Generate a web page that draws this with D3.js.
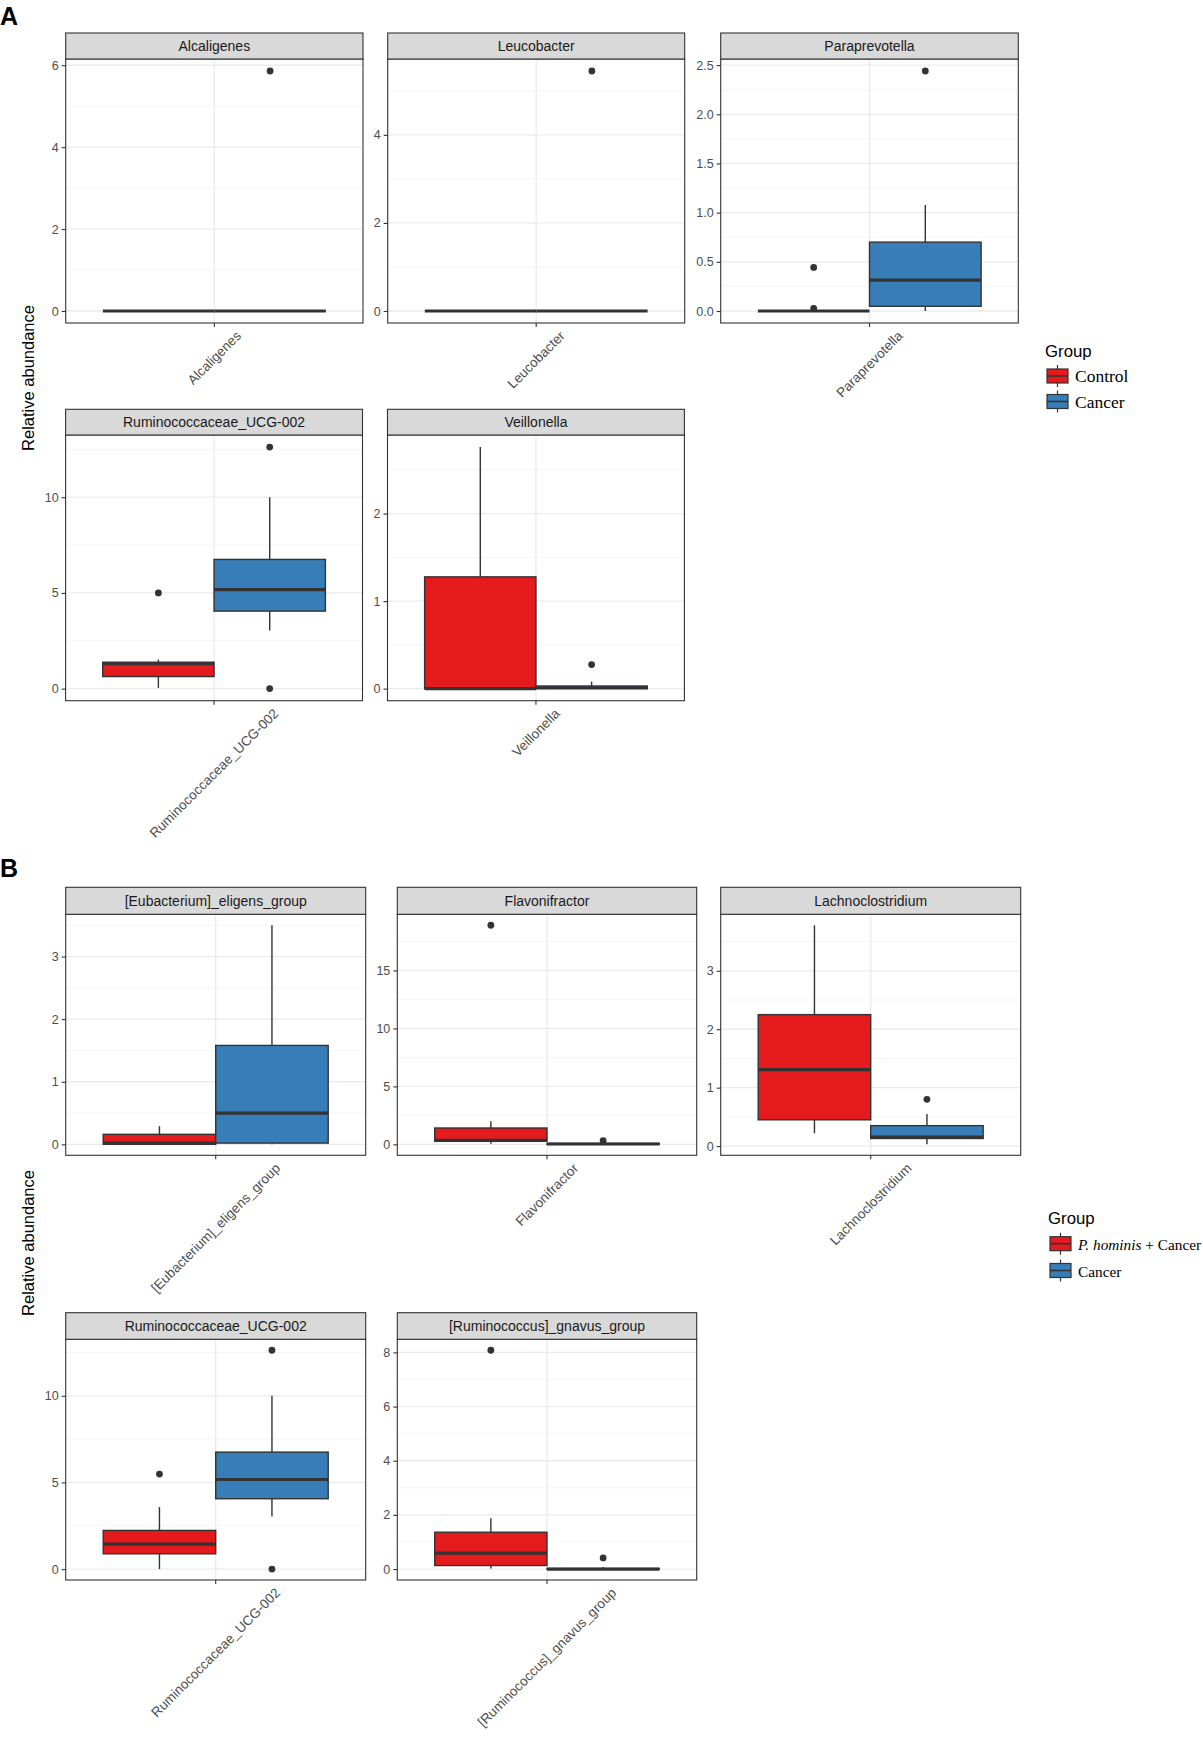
<!DOCTYPE html>
<html>
<head>
<meta charset="utf-8">
<script src="https://cdn.jsdelivr.net/npm/d3@7"></script>
<style>
  body { margin: 0; background: #fff; }
  svg { display: block; font-family: "Liberation Sans", Arial, sans-serif; }
</style>
</head>
<body>
<div id="chart"></div>
<script>
// ---- data ----
// box stats per genus: [lower whisker, q1, median, q3, upper whisker]
const generaA = ["Alcaligenes", "Leucobacter", "Paraprevotella", "Ruminococcaceae_UCG-002", "Veillonella"];
const groupsA = ["Control", "Cancer"];
const controlBoxA = [
  [0, 0, 0, 0, 0],
  [0, 0, 0, 0, 0],
  [0, 0, 0, 0, 0],
  [0.04, 0.63, 1.3, 1.38, 1.52],
  [0, 0, 0, 1.277, 2.76]
];
const cancerBoxA = [
  [0, 0, 0, 0, 0],
  [0, 0, 0, 0, 0],
  [0, 0.048, 0.314, 0.70, 1.077],
  [3.04, 4.05, 5.17, 6.75, 10.0],
  [0, 0, 0.01, 0.03, 0.08]
];
const controlOutA = [[], [], [0.443, 0.027], [5.0], []];
const cancerOutA = [[5.86], [5.45], [2.44], [12.62, 0], [0.275]];
const yTicksA = [[0, 2, 4, 6], [0, 2, 4], [0, 0.5, 1, 1.5, 2, 2.5], [0, 5, 10], [0, 1, 2]];

const generaB = ["[Eubacterium]_eligens_group", "Flavonifractor", "Lachnoclostridium", "Ruminococcaceae_UCG-002", "[Ruminococcus]_gnavus_group"];
const groupsB = ["P. hominis + Cancer", "Cancer"];
const hominisBoxB = [
  [0, 0, 0.02, 0.16, 0.29],
  [0.05, 0.26, 0.35, 1.41, 2.0],
  [0.22, 0.45, 1.31, 2.25, 3.78],
  [0, 0.88, 1.44, 2.23, 3.58],
  [0.02, 0.13, 0.59, 1.36, 1.88]
];
const cancerBoxB = [
  [0, 0.02, 0.5, 1.58, 3.5],
  [0, 0, 0.03, 0.08, 0.15],
  [0.03, 0.13, 0.155, 0.35, 0.55],
  [3.04, 4.06, 5.17, 6.75, 10.0],
  [0, 0, 0, 0.02, 0.08]
];
const hominisOutB = [[], [18.9], [], [5.48], [8.08]];
const cancerOutB = [[], [0.32], [0.8], [12.63, 0], [0.41]];
const yTicksB = [[0, 1, 2, 3], [0, 5, 10, 15], [0, 1, 2, 3], [0, 5, 10], [0, 2, 4, 6, 8]];

const groupColors = ["#E41A1C", "#377EB8"];

// ---- layout ----
const W = 1203, H = 1738;
const rowsA = [{ top: 33, strip: 59, bottom: 323 }, { top: 409.3, strip: 435, bottom: 700.7 }];
const rowsB = [{ top: 887.3, strip: 914.3, bottom: 1155.3 }, { top: 1312.7, strip: 1339.3, bottom: 1580 }];
const colsA = [[65.7, 363], [387.7, 684.7], [720.7, 1018.3], [65.6, 362.5], [387.5, 684.4]];
const colsB = [[65.7, 365.7], [397.3, 696.7], [720.7, 1020.7], [65.7, 365.7], [397.3, 696.7]];

const ink = "#333333";

const svg = d3.select("#chart").append("svg")
  .attr("width", W)
  .attr("height", H);

svg.append("rect").attr("width", W).attr("height", H).attr("fill", "#fff");

function drawPanel(name, boxes, outs, ticks, col, row) {
  const [x0, x1] = col;
  const g = svg.append("g");

  // y domain like ggplot: data range + 5% each side
  const all = boxes.flat().concat(outs.flat());
  const lo = d3.min(all), hi = d3.max(all);
  const pad = (hi - lo) * 0.05;
  const y = d3.scaleLinear().domain([lo - pad, hi + pad]).range([row.bottom, row.strip]);

  const xCat = d3.scalePoint().domain([name]).range([x0, x1]).padding(0.5);
  const cx = xCat(name);
  const pw = x1 - x0;
  const xGrp = d3.scaleBand().domain([0, 1]).range([cx - pw * 0.375, cx + pw * 0.375]);

  // background
  g.append("rect").attr("x", x0).attr("y", row.strip)
    .attr("width", pw).attr("height", row.bottom - row.strip).attr("fill", "#fff");

  // minor grid
  const step = ticks[1] - ticks[0];
  const dom = y.domain();
  const minors = [ticks[0] - step / 2].concat(ticks.map(t => t + step / 2))
    .filter(v => v > dom[0] && v < dom[1]);
  g.selectAll(".minor").data(minors).join("line")
    .attr("x1", x0).attr("x2", x1)
    .attr("y1", d => y(d)).attr("y2", d => y(d))
    .attr("stroke", "#f2f2f2").attr("stroke-width", 0.8);
  // major grid
  g.selectAll(".major").data(ticks).join("line")
    .attr("x1", x0).attr("x2", x1)
    .attr("y1", d => y(d)).attr("y2", d => y(d))
    .attr("stroke", "#ebebeb").attr("stroke-width", 1.3);
  g.append("line").attr("x1", cx).attr("x2", cx)
    .attr("y1", row.strip).attr("y2", row.bottom)
    .attr("stroke", "#ebebeb").attr("stroke-width", 1.3);

  // boxes
  boxes.forEach((b, i) => {
    const bx = xGrp(i), bw = xGrp.bandwidth(), mx = bx + bw / 2;
    const [wl, q1, md, q3, wh] = b;
    g.append("line").attr("x1", mx).attr("x2", mx)
      .attr("y1", y(q3)).attr("y2", y(wh))
      .attr("stroke", ink).attr("stroke-width", 1.4);
    g.append("line").attr("x1", mx).attr("x2", mx)
      .attr("y1", y(q1)).attr("y2", y(wl))
      .attr("stroke", ink).attr("stroke-width", 1.4);
    g.append("rect").attr("x", bx).attr("y", y(q3))
      .attr("width", bw).attr("height", Math.max(0, y(q1) - y(q3)))
      .attr("fill", groupColors[i]).attr("stroke", ink).attr("stroke-width", 1.4);
    g.append("line").attr("x1", bx).attr("x2", bx + bw)
      .attr("y1", y(md)).attr("y2", y(md))
      .attr("stroke", ink).attr("stroke-width", 3.2);
    g.selectAll(null).data(outs[i]).join("circle")
      .attr("cx", mx).attr("cy", d => y(d)).attr("r", 3.4)
      .attr("fill", ink);
  });

  // border
  g.append("rect").attr("x", x0).attr("y", row.strip)
    .attr("width", pw).attr("height", row.bottom - row.strip)
    .attr("fill", "none").attr("stroke", ink).attr("stroke-width", 1.1);

  // strip
  g.append("rect").attr("x", x0).attr("y", row.top)
    .attr("width", pw).attr("height", row.strip - row.top)
    .attr("fill", "#d9d9d9").attr("stroke", ink).attr("stroke-width", 1.1);
  g.append("text").attr("x", cx).attr("y", (row.top + row.strip) / 2)
    .attr("text-anchor", "middle").attr("dominant-baseline", "central")
    .attr("font-size", 14).attr("fill", "#1a1a1a").text(name);

  // y axis
  const fmt = step < 1 ? d3.format(".1f") : d3.format("d");
  const yAxis = g.append("g").attr("transform", `translate(${x0},0)`)
    .call(d3.axisLeft(y).tickValues(ticks).tickFormat(fmt).tickSize(4).tickPadding(3));
  yAxis.select(".domain").remove();
  yAxis.selectAll(".tick line").attr("stroke", ink).attr("stroke-width", 1.1);
  yAxis.selectAll(".tick text").attr("fill", "#4d4d4d").attr("font-size", 12.5)
    .attr("font-family", "Liberation Sans, Arial, sans-serif");

  // x tick + rotated label
  g.append("line").attr("x1", cx).attr("x2", cx)
    .attr("y1", row.bottom).attr("y2", row.bottom + 4)
    .attr("stroke", ink).attr("stroke-width", 1.1);
  const lab = g.append("text").attr("text-anchor", "middle")
    .attr("dominant-baseline", "central")
    .attr("font-size", 13.5).attr("fill", "#4d4d4d").text(name);
  const len = lab.node().getComputedTextLength();
  const half = (len + 10) * Math.SQRT1_2 / 2;
  const ly = row.bottom + 7 + half;
  lab.attr("transform", `translate(${cx},${ly}) rotate(-45)`);
}

generaA.forEach((n, i) => {
  drawPanel(n, [controlBoxA[i], cancerBoxA[i]], [controlOutA[i], cancerOutA[i]],
    yTicksA[i], colsA[i], rowsA[i < 3 ? 0 : 1]);
});
generaB.forEach((n, i) => {
  drawPanel(n, [hominisBoxB[i], cancerBoxB[i]], [hominisOutB[i], cancerOutB[i]],
    yTicksB[i], colsB[i], rowsB[i < 3 ? 0 : 1]);
});

// section letters
svg.append("text").attr("x", 0).attr("y", 25).attr("font-size", 25)
  .attr("font-weight", "bold").attr("fill", "#000").text("A");
svg.append("text").attr("x", 0).attr("y", 877).attr("font-size", 25)
  .attr("font-weight", "bold").attr("fill", "#000").text("B");

// y titles
[[378], [1243]].forEach(([cy]) => {
  svg.append("text").attr("transform", `translate(28,${cy}) rotate(-90)`)
    .attr("text-anchor", "middle").attr("dominant-baseline", "central")
    .attr("font-size", 16.5).attr("fill", "#000").text("Relative abundance");
});

// legends
function drawLegend(x, titleY, keyYs, labels, labelSize) {
  const lg = svg.append("g");
  lg.append("text").attr("x", x).attr("y", titleY).attr("font-size", 16.8)
    .attr("fill", "#000").text("Group");
  keyYs.forEach((ky, i) => {
    const kx = x + 2, kw = 21, kh = 14, mx = kx + kw / 2;
    lg.append("line").attr("x1", mx).attr("x2", mx).attr("y1", ky - 4).attr("y2", ky + kh + 4)
      .attr("stroke", ink).attr("stroke-width", 1.2);
    lg.append("rect").attr("x", kx).attr("y", ky).attr("width", kw).attr("height", kh)
      .attr("fill", groupColors[i]).attr("stroke", ink).attr("stroke-width", 1.2);
    lg.append("line").attr("x1", kx).attr("x2", kx + kw).attr("y1", ky + kh / 2).attr("y2", ky + kh / 2)
      .attr("stroke", ink).attr("stroke-width", 1.6);
    const t = lg.append("text").attr("x", x + 30).attr("y", ky + kh / 2)
      .attr("dominant-baseline", "central")
      .attr("font-family", "Liberation Serif, Times New Roman, serif")
      .attr("font-size", labelSize).attr("fill", "#000");
    labels[i].forEach(([s, it]) => {
      t.append("tspan").attr("font-style", it ? "italic" : "normal").text(s);
    });
  });
}
drawLegend(1045, 357, [369, 394.5], [[["Control", false]], [["Cancer", false]]], 17.5);
drawLegend(1048, 1224, [1236.7, 1263.5], [[["P. hominis", true], [" + Cancer", false]], [["Cancer", false]]], 15.3);
</script>
</body>
</html>
